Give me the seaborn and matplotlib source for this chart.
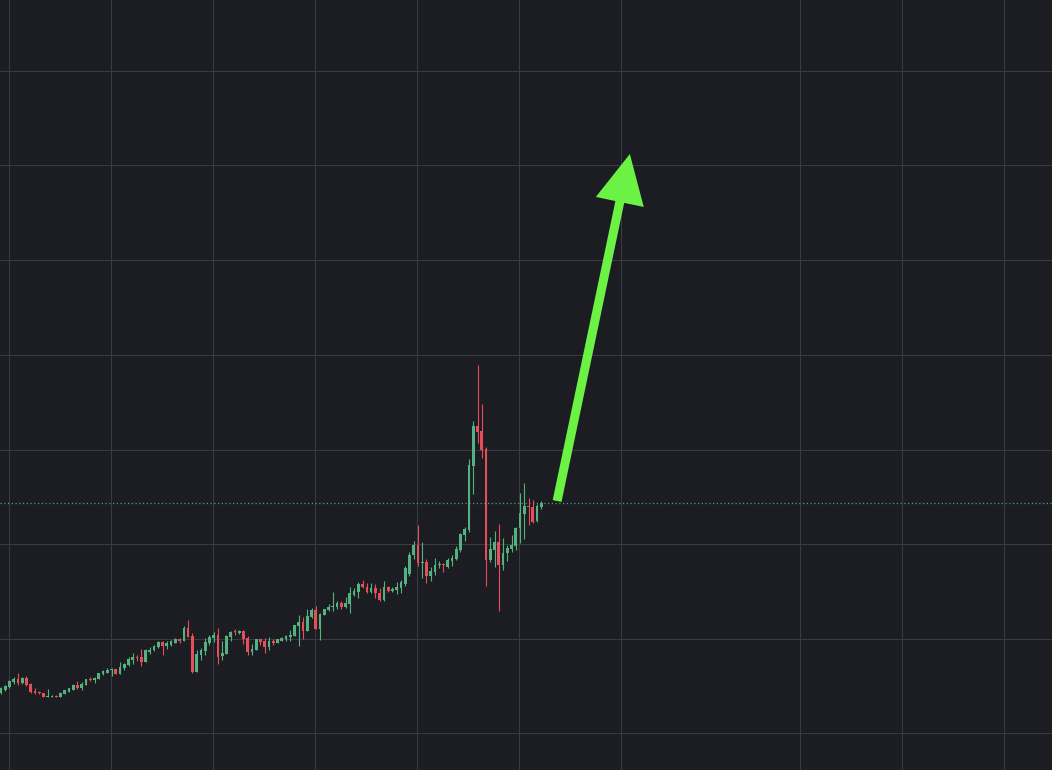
import numpy as np
import pandas as pd
import matplotlib
matplotlib.use("Agg")
import matplotlib.pyplot as plt
from matplotlib.patches import FancyArrow
from matplotlib.transforms import IdentityTransform
import seaborn as sns

# candle data (price units)
opens = [77, 80, 83, 88, 91, 87, 92, 86, 79, 78,
         77, 73, 73, 74, 73, 76, 78, 80, 85, 82,
         85, 91, 90, 91, 96, 97, 100, 101, 96, 102,
         105, 110, 113, 113, 108, 118, 120, 123, 128, 124,
         125, 127, 131, 129, 142, 134, 98, 115, 119, 127,
         132, 135, 114, 116, 133, 139, 137, 139, 132, 118,
         120, 131, 129, 123, 129, 127, 129, 131, 133, 134,
         144, 148, 139, 153, 160, 141, 155, 160, 163, 163,
         167, 163, 166, 175, 178, 186, 183, 178, 182, 177,
         170, 183, 179, 180, 182, 186, 196, 215, 225, 207,
         208, 194, 198, 205, 206, 203, 209, 211, 220, 235,
         240, 304, 344, 339, 321, 210, 220, 228, 205, 217,
         221, 224, 242, 256, 264, 263, 249, 263]
highs = [83, 85, 90, 93, 97, 93, 94, 87, 82, 79,
         77, 81, 75, 75, 78, 80, 82, 86, 89, 88,
         91, 93, 93, 97, 100, 102, 102, 101, 108, 107,
         113, 117, 115, 121, 121, 123, 125, 129, 129, 129,
         130, 132, 132, 144, 150, 137, 120, 122, 132, 135,
         138, 142, 129, 135, 139, 141, 140, 140, 134, 126,
         131, 131, 132, 133, 131, 131, 133, 135, 140, 145,
         155, 153, 161, 162, 164, 157, 161, 166, 178, 169,
         169, 173, 183, 182, 188, 190, 187, 187, 186, 182,
         189, 184, 183, 188, 190, 204, 218, 229, 245, 228,
         211, 203, 212, 209, 207, 212, 215, 224, 237, 243,
         311, 349, 405, 366, 323, 233, 239, 246, 232, 225,
         235, 243, 277, 287, 272, 270, 266, 269]
lows = [76, 79, 82, 86, 85, 86, 84, 77, 76, 76,
        73, 73, 73, 73, 73, 76, 78, 80, 81, 80,
        85, 89, 87, 91, 95, 97, 94, 96, 96, 100,
        104, 106, 109, 104, 108, 116, 119, 122, 115, 121,
        124, 127, 127, 129, 133, 97, 98, 110, 115, 125,
        128, 106, 110, 116, 129, 135, 136, 126, 115, 115,
        120, 125, 117, 120, 125, 127, 129, 129, 129, 134,
        124, 131, 139, 152, 141, 130, 155, 159, 159, 161,
        161, 162, 157, 174, 172, 182, 177, 177, 172, 169,
        169, 178, 178, 176, 177, 184, 194, 211, 204, 192,
        187, 189, 195, 202, 198, 202, 204, 210, 218, 229,
        238, 276, 327, 312, 184, 208, 203, 159, 200, 209,
        218, 220, 227, 231, 245, 247, 248, 261]
closes = [82, 84, 89, 91, 87, 92, 85, 78, 77, 77,
          73, 74, 74, 73, 77, 80, 82, 85, 82, 86,
          91, 90, 92, 97, 99, 100, 101, 96, 103, 106,
          111, 113, 112, 108, 120, 120, 124, 128, 124, 127,
          129, 131, 129, 142, 133, 98, 116, 120, 128, 133,
          135, 113, 117, 134, 138, 138, 139, 131, 118, 121,
          131, 128, 123, 129, 127, 131, 132, 134, 135, 145,
          148, 139, 154, 160, 141, 156, 161, 163, 164, 167,
          163, 167, 177, 179, 186, 183, 178, 182, 177, 170,
          183, 179, 181, 183, 188, 202, 215, 225, 207, 208,
          194, 199, 205, 206, 205, 210, 212, 221, 236, 241,
          305, 344, 338, 320, 210, 221, 228, 205, 217, 222,
          225, 242, 257, 264, 263, 248, 264, 267]

# grid positions (no labels shown on the chart)
grid_x = [1.9, 25.9, 49.8, 73.8, 97.8, 121.8, 145.7, 187.8, 211.8, 235.7]
grid_y = [37, 131, 226, 320, 415, 510, 605, 699]

# arrow annotation (start near last close, tip up and right)
arrow_start = (130.7, 269)
arrow_tip = (147.8, 616)

BG = "#1c1d22"
GRID = "#383b44"
UP = "#53b27f"
DOWN = "#e54e5b"
ARROW = "#6cf244"

df = pd.DataFrame({"open": opens, "high": highs, "low": lows, "close": closes})
df["idx"] = np.arange(len(df))
df["up"] = df["close"] >= df["open"]

sns.set_theme(style="darkgrid", rc={"axes.facecolor": BG, "figure.facecolor": BG,
                                     "grid.color": GRID, "grid.linewidth": 0.75})

fig = plt.figure(figsize=(10.52, 7.70), dpi=100)
ax = fig.add_axes([0, 0, 1, 1])

colors = np.where(df["up"], UP, DOWN)
ax.vlines(df["idx"], df["low"], df["high"], colors=colors, linewidth=0.8, zorder=3)
body_bottom = np.minimum(df["open"], df["close"])
body_h = np.maximum((df["close"] - df["open"]).abs(), 1.0)
ax.bar(df["idx"], body_h, bottom=body_bottom, width=0.64, color=colors,
       linewidth=0, zorder=4)

# last price line
ax.axhline(df["close"].iloc[-1], color="#4f9f82", linestyle=(0, (1, 2)),
           linewidth=0.9, zorder=2)

ax.set_xticks(grid_x)
ax.set_yticks(grid_y)
ax.tick_params(length=0, labelbottom=False, labelleft=False)
for s in ax.spines.values():
    s.set_visible(False)
ax.grid(True)
ax.set_axisbelow(True)

ax.set_xlim(-0.21, 247.0)
ax.set_ylim(0, 770)

p0 = ax.transData.transform(arrow_start)
p1 = ax.transData.transform(arrow_tip)
arrow = FancyArrow(p0[0], p0[1], p1[0] - p0[0], p1[1] - p0[1], width=9,
                   head_width=49, head_length=49, length_includes_head=True,
                   color=ARROW, linewidth=0, transform=IdentityTransform(), zorder=5)
ax.add_patch(arrow)
ax.set_xlim(-0.21, 247.0)
ax.set_ylim(0, 770)

fig.savefig("out.png", dpi=100, facecolor=BG)
